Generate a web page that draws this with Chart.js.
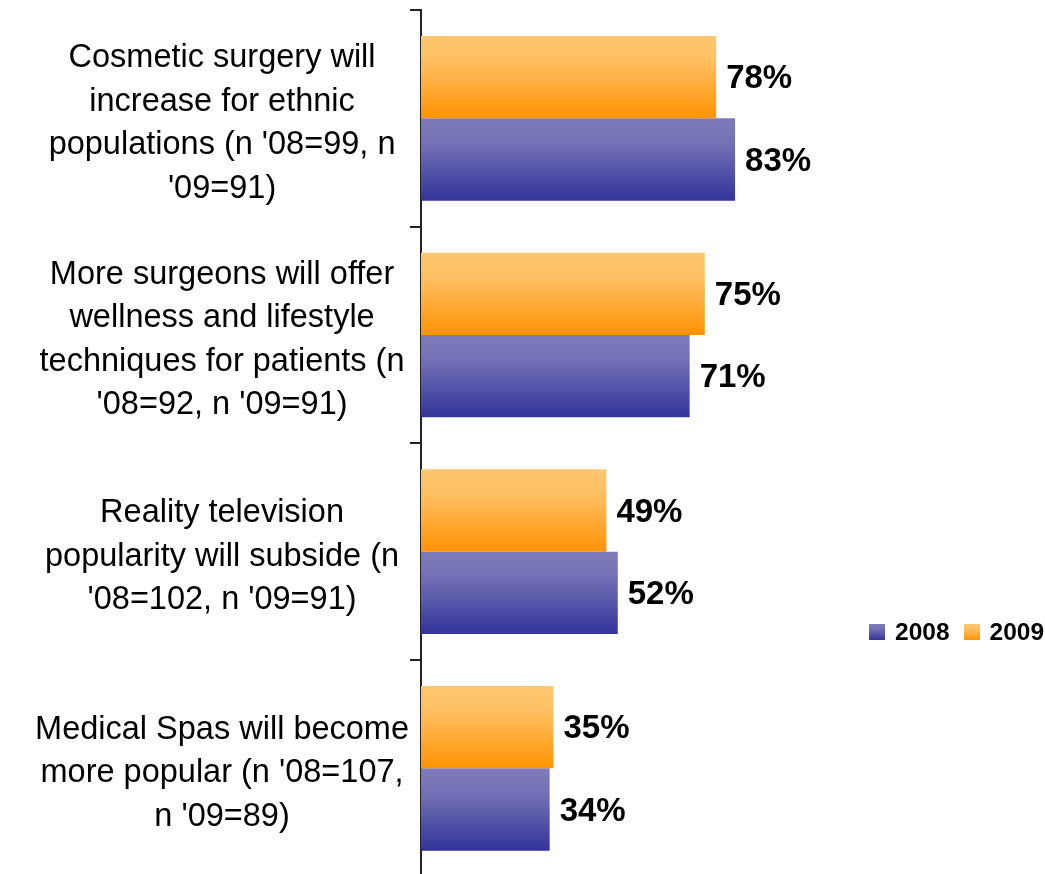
<!DOCTYPE html>
<html>
<head>
<meta charset="utf-8">
<script src="https://cdn.jsdelivr.net/npm/chart.js@4.4.1/dist/chart.umd.min.js"></script>
<style>
  html, body { margin: 0; padding: 0; background: #fff; overflow: hidden; }
  #wrap { position: relative; width: 1045px; height: 880px; }
  #legend { position: absolute; left: 869px; top: 617px; font: bold 24.5px "Liberation Sans", Arial, sans-serif; color: #000; white-space: nowrap; line-height: 26px; }
  #legend .item { display: inline-block; vertical-align: middle; }
  #legend .box { display: inline-block; width: 16px; height: 16px; vertical-align: middle; margin-right: 10px; position: relative; top: -1px; }
</style>
</head>
<body>
<div id="wrap">
  <canvas id="c" width="1045" height="880"></canvas>
  <div id="legend"></div>
</div>
<script>
const categories = [
  ["Cosmetic surgery will", "increase for ethnic", "populations (n '08=99, n", "'09=91)"],
  ["More surgeons will offer", "wellness and lifestyle", "techniques for patients (n", "'08=92, n '09=91)"],
  ["Reality television", "popularity will subside (n", "'08=102, n '09=91)"],
  ["Medical Spas will become", "more popular (n '08=107,", "n '09=89)"]
];
const seriesNames = ["2009", "2008"];
const values2009 = [78, 75, 49, 35];
const values2008 = [83, 71, 52, 34];
const legendOrder = ["2008", "2009"];

const gradStops = {
  "2009": ["#FFC76F", "#FFBF62", "#FF9304"],
  "2008": ["#7E7BBC", "#7472B5", "#333399"]
};
const CAT_PCT = 0.76;

function barGradient(c, name) {
  const chart = c.chart;
  const ys = chart.scales.y;
  if (!chart.chartArea || !ys || c.dataIndex === undefined) return gradStops[name][1];
  const center = ys.getPixelForValue(c.dataIndex);
  const band = Math.abs(ys.getPixelForValue(1) - ys.getPixelForValue(0));
  const h = band * CAT_PCT / 2;
  const top = c.datasetIndex === 0 ? center - h : center;
  const g = chart.ctx.createLinearGradient(0, top, 0, top + h);
  const s = gradStops[name];
  g.addColorStop(0, s[0]);
  g.addColorStop(0.3, s[1]);
  g.addColorStop(1, s[2]);
  return g;
}

const labelPlugin = {
  id: 'valueLabels',
  afterDatasetsDraw(chart) {
    const ctx = chart.ctx;
    ctx.save();
    ctx.font = 'bold 33px "Liberation Sans", Arial, sans-serif';
    ctx.fillStyle = '#000';
    ctx.textAlign = 'left';
    ctx.textBaseline = 'middle';
    chart.data.datasets.forEach((ds, di) => {
      const meta = chart.getDatasetMeta(di);
      meta.data.forEach((el, i) => {
        ctx.fillText(ds.data[i] + '%', el.x + 10, el.y + 2);
      });
    });
    ctx.restore();
  }
};

new Chart(document.getElementById('c'), {
  type: 'bar',
  data: {
    labels: categories,
    datasets: [
      { label: seriesNames[0], data: values2009, backgroundColor: c => barGradient(c, "2009"), borderWidth: 0 },
      { label: seriesNames[1], data: values2008, backgroundColor: c => barGradient(c, "2008"), borderWidth: 0 }
    ]
  },
  options: {
    indexAxis: 'y',
    responsive: false,
    animation: false,
    devicePixelRatio: 1,
    layout: { padding: { left: 0, top: 10, right: 245.6, bottom: 3.3 } },
    datasets: { bar: { categoryPercentage: CAT_PCT, barPercentage: 1.0 } },
    plugins: { legend: { display: false }, tooltip: { enabled: false } },
    scales: {
      x: { display: false, min: 0, max: 100 },
      y: {
        grid: { drawOnChartArea: false, drawTicks: true, tickLength: 11, color: '#222', lineWidth: 2, offset: true },
        border: { display: true, color: '#222', width: 2 },
        ticks: {
          crossAlign: 'center',
          padding: 1,
          labelOffset: 5,
          color: '#000',
          font: { family: '"Liberation Sans", Arial, sans-serif', size: 32.5, lineHeight: 1.34 }
        },
        afterFit(scale) {
          scale.width = 421;
          scale.paddingTop = 0;
          scale.paddingBottom = 0;
        }
      }
    }
  },
  plugins: [labelPlugin]
});

const lg = document.getElementById('legend');
legendOrder.forEach((name, k) => {
  const s = gradStops[name];
  const item = document.createElement('span');
  item.className = 'item';
  if (k > 0) item.style.marginLeft = '14px';
  const box = document.createElement('span');
  box.className = 'box';
  box.style.background = 'linear-gradient(' + s[0] + ',' + s[1] + ' 30%,' + s[2] + ')';
  item.appendChild(box);
  item.appendChild(document.createTextNode(name));
  lg.appendChild(item);
});
</script>
</body>
</html>
